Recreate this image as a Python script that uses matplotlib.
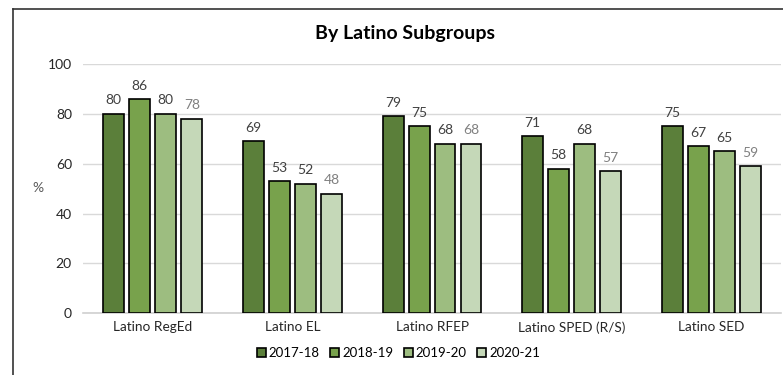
import matplotlib.pyplot as plt
import numpy as np

plt.rcParams['font.family'] = ['Lato', 'DejaVu Sans']

categories = ['Latino RegEd', 'Latino EL', 'Latino RFEP', 'Latino SPED (R/S)', 'Latino SED']
years = ['2017-18', '2018-19', '2019-20', '2020-21']
v_2017 = [80, 69, 79, 71, 75]
v_2018 = [86, 53, 75, 58, 67]
v_2019 = [80, 52, 68, 68, 65]
v_2020 = [78, 48, 68, 57, 59]
series = [v_2017, v_2018, v_2019, v_2020]

colors = ['#5b7f3a', '#78a24c', '#9dbd80', '#c5d8b8']
label_colors = ['#404040', '#404040', '#404040', '#808080']

fig = plt.figure(figsize=(7.83, 3.75), dpi=100)
ax = fig.add_axes([0.106, 0.165, 0.8915, 0.664])

x = np.arange(len(categories))
width = 0.15
step = 0.186
for i, (vals, col) in enumerate(zip(series, colors)):
    pos = x + (i - 1.5) * step
    bars = ax.bar(pos, vals, width, color=col, edgecolor='black',
                  linewidth=1.2, label=years[i], zorder=3)
    for b, v in zip(bars, vals):
        ax.text(b.get_x() + b.get_width() / 2, v + 3, str(v),
                ha='center', va='bottom', fontsize=10, color=label_colors[i])

ax.set_xlim(-0.5, len(categories) - 0.5)
ax.set_ylim(0, 100)
ax.set_yticks([0, 20, 40, 60, 80, 100])
ax.set_xticks(x)
ax.set_xticklabels(categories, fontsize=9.8, color='#262626')
ax.tick_params(axis='y', labelsize=10, colors='#262626', length=0, pad=8)
ax.tick_params(axis='x', length=0, pad=6)
ax.grid(axis='y', color='#d9d9d9', linewidth=1, zorder=0)
for s in ['top', 'right', 'left']:
    ax.spines[s].set_visible(False)
ax.spines['bottom'].set_color('#d0d0d0')
ax.spines['bottom'].set_linewidth(1.2)

fig.text(0.049, 0.5, '%', fontsize=10, color='#595959', ha='center', va='center')
fig.text(0.517, 0.91, 'By Latino Subgroups', fontsize=14, fontweight='bold',
         ha='center', va='center', color='black')

fig.legend(loc='center', bbox_to_anchor=(0.509, 0.058), ncol=4, frameon=False,
           fontsize=9.5, handlelength=0.65, handleheight=0.65, handletextpad=0.25,
           columnspacing=0.8)

# partial frame from the screenshot
fig.add_artist(plt.Line2D([13 / 783, 13 / 783], [0, 1 - 9 / 375],
                          transform=fig.transFigure, color='#333333', linewidth=1.2))
fig.add_artist(plt.Line2D([13 / 783, 1], [1 - 9 / 375, 1 - 9 / 375],
                          transform=fig.transFigure, color='#333333', linewidth=1.2))

fig.savefig('out.png', dpi=100)
